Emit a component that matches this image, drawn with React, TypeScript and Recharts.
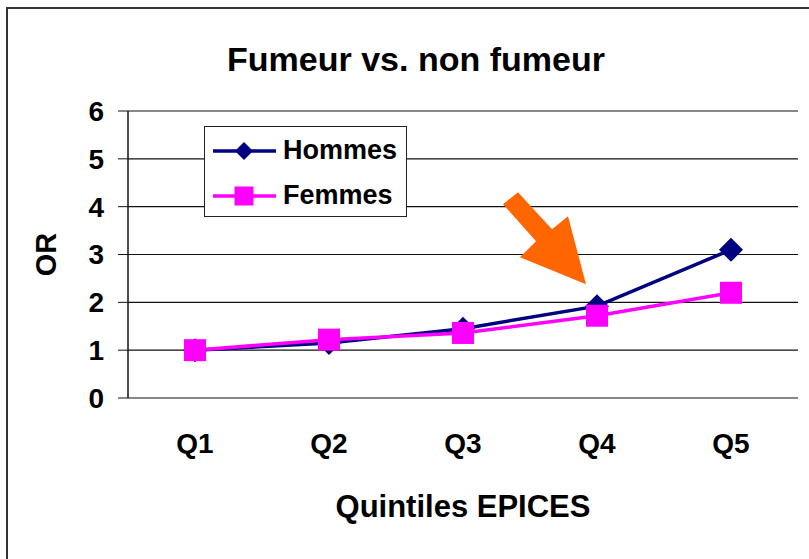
import { CartesianGrid, Label, Legend, Line, LineChart, ReferenceDot, XAxis, YAxis } from 'recharts'

const quintiles = ['Q1', 'Q2', 'Q3', 'Q4', 'Q5']
const hommes = [1.0, 1.15, 1.45, 1.92, 3.1]
const femmes = [1.0, 1.22, 1.36, 1.72, 2.2]
const orTicks = [0, 1, 2, 3, 4, 5, 6]
const edgeTicks = [0, 1, 2, 3, 4, 5]

const data = quintiles.map((q, i) => ({ q, hommes: hommes[i], femmes: femmes[i] }))

const FONT = '"Liberation Sans", Arial, sans-serif'
const NAVY = '#000080'
const PINK = '#ff00ff'

function Diamond({ cx, cy, size = 12, fill = NAVY }: any) {
  if (cx == null || cy == null) return null
  return (
    <polygon
      points={`${cx},${cy - size} ${cx + size},${cy} ${cx},${cy + size} ${cx - size},${cy}`}
      fill={fill}
    />
  )
}

function Square({ cx, cy, size = 11, fill = PINK }: any) {
  if (cx == null || cy == null) return null
  return <rect x={cx - size} y={cy - size} width={size * 2} height={size * 2} fill={fill} />
}

function Arrow({ cx, cy }: any) {
  const pts = [
    [-79, -114],
    [-45, -77],
    [-29, -90],
    [-11, -22],
    [-77, -49],
    [-61, -65],
    [-94, -102],
  ]
  return <polygon points={pts.map(([dx, dy]) => `${cx + dx},${cy + dy}`).join(' ')} fill="#ff6600" />
}

function LegendBox() {
  const rows = [
    { name: 'Hommes', color: NAVY, marker: 'diamond' },
    { name: 'Femmes', color: PINK, marker: 'square' },
  ]
  return (
    <div
      style={{
        width: 201,
        height: 89,
        border: '1.5px solid #222',
        background: '#fff',
        fontFamily: FONT,
        fontWeight: 700,
        fontSize: 27,
        color: '#000',
        boxSizing: 'content-box',
      }}
    >
      {rows.map((r, i) => (
        <div key={r.name} style={{ display: 'flex', alignItems: 'center', height: 45, marginTop: i === 0 ? 1 : 0 }}>
          <svg width={66} height={24} style={{ marginLeft: 8, flex: 'none' }}>
            <line x1={0} y1={12} x2={63} y2={12} stroke={r.color} strokeWidth={3.5} />
            {r.marker === 'diamond' ? (
              <Diamond cx={31} cy={12} size={9} fill={r.color} />
            ) : (
              <Square cx={31} cy={12} size={9.5} fill={r.color} />
            )}
          </svg>
          <span style={{ marginLeft: 4 }}>{r.name}</span>
        </div>
      ))}
    </div>
  )
}

export default function App() {
  return (
    <div style={{ position: 'absolute', left: 0, top: 0, width: 809, height: 559, overflow: 'hidden', background: '#fff' }}>
      <div
        style={{
          position: 'absolute',
          left: 6,
          top: 7,
          width: 840,
          height: 600,
          border: '2px solid #333',
        }}
      />
      <div
        style={{
          position: 'absolute',
          left: 0,
          top: 37,
          width: 832,
          textAlign: 'center',
          fontFamily: FONT,
          fontWeight: 700,
          fontSize: 34,
          lineHeight: '44px',
          color: '#000',
        }}
      >
        Fumeur vs. non fumeur
      </div>
      <div style={{ position: 'absolute', left: 0, top: 0 }}>
        <LineChart width={809} height={559} data={data} margin={{ top: 111, right: 11, bottom: 0, left: 0 }}>
          <CartesianGrid horizontal vertical={false} stroke="#111" strokeWidth={1.2} />
          <XAxis
            xAxisId="edges"
            type="number"
            domain={[0, 5]}
            ticks={edgeTicks}
            tick={false}
            tickSize={10}
            height={0}
            stroke="#111"
            axisLine={{ stroke: '#111', strokeWidth: 1.5 }}
          />
          <XAxis
            dataKey="q"
            height={161}
            padding={{ left: 67, right: 67 }}
            axisLine={false}
            tickLine={false}
            tick={{ fill: '#000', fontSize: 28, fontWeight: 700, fontFamily: FONT }}
            tickMargin={29}
          >
            <Label
              content={({ viewBox }: any) => (
                <text
                  x={viewBox.x + viewBox.width / 2}
                  y={viewBox.y + 119}
                  textAnchor="middle"
                  fontSize={31}
                  fontWeight={700}
                  fontFamily={FONT}
                  fill="#000"
                >
                  Quintiles EPICES
                </text>
              )}
            />
          </XAxis>
          <YAxis
            width={128}
            domain={[0, 6]}
            ticks={orTicks}
            interval={0}
            tickSize={10}
            tickMargin={14}
            stroke="#111"
            axisLine={{ stroke: '#111', strokeWidth: 1.5 }}
            tick={{ fill: '#000', fontSize: 28, fontWeight: 700, fontFamily: FONT }}
          >
            <Label
              content={({ viewBox }: any) => {
                const x = viewBox.x + 46
                const y = viewBox.y + viewBox.height / 2
                return (
                  <text
                    x={x}
                    y={y}
                    transform={`rotate(-90 ${x} ${y})`}
                    textAnchor="middle"
                    dominantBaseline="central"
                    fontSize={29}
                    fontWeight={700}
                    fontFamily={FONT}
                    fill="#000"
                  >
                    OR
                  </text>
                )
              }}
            />
          </YAxis>
          <Legend
            layout="vertical"
            align="center"
            verticalAlign="middle"
            wrapperStyle={{ left: 204, top: 126, width: 'auto' }}
            content={() => <LegendBox />}
          />
          <Line
            type="linear"
            dataKey="hommes"
            name="Hommes"
            stroke={NAVY}
            strokeWidth={3.5}
            dot={(p: any) => <Diamond key={`h${p.index}`} cx={p.cx} cy={p.cy} size={12} fill={NAVY} />}
            activeDot={false}
            isAnimationActive={false}
          />
          <Line
            type="linear"
            dataKey="femmes"
            name="Femmes"
            stroke={PINK}
            strokeWidth={3.5}
            dot={(p: any) => <Square key={`f${p.index}`} cx={p.cx} cy={p.cy} size={11} fill={PINK} />}
            activeDot={false}
            isAnimationActive={false}
          />
          <ReferenceDot x="Q4" y={hommes[3]} shape={<Arrow />} ifOverflow="visible" />
        </LineChart>
      </div>
    </div>
  )
}
